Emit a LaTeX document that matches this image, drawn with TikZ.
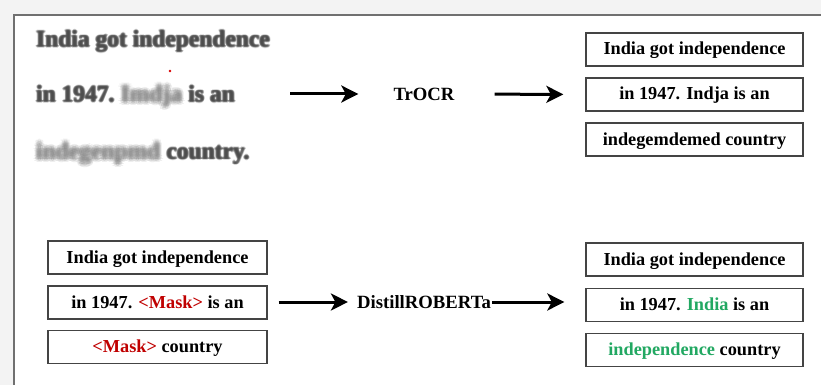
\documentclass[tikz,border=0pt]{standalone}
\usepackage{fontspec}
\setmainfont{Liberation Serif}
\usetikzlibrary{arrows.meta,calc}

\definecolor{pagebg}{HTML}{F3F3F3}
\definecolor{framecol}{HTML}{707070}
\definecolor{boxline}{HTML}{444444}
\definecolor{maskred}{HTML}{C00000}
\definecolor{fixgreen}{HTML}{22A862}
\definecolor{scanink}{HTML}{4A4A4A}
\definecolor{smudge}{HTML}{7C7C7C}

\tikzset{
  textbox/.style={draw=boxline, line width=1.3pt, minimum width=217pt, minimum height=33pt,
    inner sep=0pt, text height=14pt, text depth=3pt,
    font=\fontsize{18.3}{20}\selectfont\bfseries},
  model/.style={inner sep=0pt, font=\fontsize{18.7}{20}\selectfont\bfseries},
  flow/.style={line width=3pt, -{Stealth[length=17pt,width=17pt,inset=4.5pt]}},
  scan/.style={inner sep=0pt, anchor=base west, font=\fontsize{23.5}{26}\selectfont\bfseries},
}

% A soft, out-of-focus word: overlapping faint copies around one point.
% #1 name, #2 base-west point, #3 spread, #4 opacity per copy, #5 colour, #6 text
\newcommand\softword[6]{%
  \node[scan, text opacity=0] (#1) at (#2) {#6};
  \foreach \a [count=\k] in {0,45,...,315}{
    \node[scan, text=#5, text opacity=#4] (#1-o\k) at ($(#2)+(\a:#3)$) {#6};
    \node[scan, text=#5, text opacity=#4] (#1-i\k) at ($(#2)+(\a+22.5:#3*0.5)$) {#6};
  }
  \node[scan, text=#5, text opacity=#4] (#1-c) at (#2) {#6};
}

\begin{document}
\begin{tikzpicture}[x=1pt, y=-1pt]
  \useasboundingbox (0,0) rectangle (821,385);
  % page and frame
  \fill[pagebg] (0,0) rectangle (821,385);
  \fill[white] (14,15) rectangle (821,385);
  \draw[framecol, line width=1.5pt] (14,385) -- (14,15) -- (821,15);

  % scanned, blurred input text
  \softword{s1}{36,47}{1.4}{0.2}{scanink}{India got independence}
  \softword{s2a}{36,102}{1.4}{0.2}{scanink}{in 1947.}
  \softword{s2b}{s2a.base east}{3.2}{0.13}{smudge}{\ Imdja}
  \softword{s2c}{s2b.base east}{1.4}{0.2}{scanink}{\ is an}
  \softword{s3a}{36,159}{3.2}{0.13}{smudge}{indegenpmd}
  \softword{s3b}{s3a.base east}{1.4}{0.2}{scanink}{\ country.}
  \fill[red!85!black] (170,71) circle (1.4);

  % OCR stage
  \node[model] (trocr) at (424,94) {TrOCR};
  \node[textbox] (o1) at (694.5,49.5) {India got independence};
  \node[textbox] (o2) at (694.5,94.5) {in 1947. Indja is an};
  \node[textbox] (o3) at (694.5,139.5) {indegemdemed country};
  \coordinate (in1) at (290,94);
  \draw[flow, shorten >=35pt] (in1) -- (trocr.west);
  \draw[flow, shorten <=40pt, shorten >=22pt] (trocr.east) -- (o2.west);

  % masked language model stage
  \node[textbox, minimum width=219pt] (m1) at (157.5,257.5) {India got independence};
  \node[textbox, minimum width=219pt] (m2) at (157.5,302.5) {in 1947. \textcolor{maskred}{<Mask>} is an};
  \node[textbox, minimum width=219pt] (m3) at (157.5,347) {\textcolor{maskred}{<Mask>} country};
  \node[model] (bert) at (424,302) {DistillROBERTa};
  \node[textbox] (r1) at (694.5,259.5) {India got independence};
  \node[textbox] (r2) at (694.5,305) {in 1947. \textcolor{fixgreen}{India} is an};
  \node[textbox] (r3) at (694.5,350) {\textcolor{fixgreen}{independence} country};
  \draw[flow, shorten <=11pt, shorten >=9pt] (m2.east |- bert) -- (bert.west);
  \draw[flow, shorten <=1pt, shorten >=21pt] (bert.east) -- (r2.west |- bert);
\end{tikzpicture}
\end{document}
